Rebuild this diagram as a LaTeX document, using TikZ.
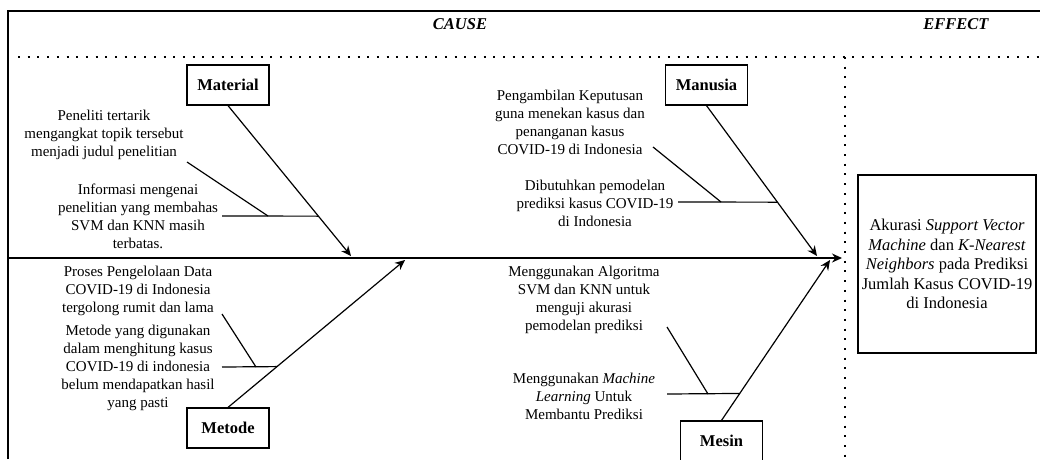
\documentclass[tikz,border=0pt]{standalone}
\usepackage{fontspec}
\setmainfont{Liberation Serif}
\usetikzlibrary{calc,arrows.meta}

\begin{document}
\begin{tikzpicture}[x=1pt, y=-1pt, line width=1.2pt, >={Stealth[length=10pt,width=9pt]},
  box/.style={draw, minimum width=82pt, minimum height=40pt, font=\fontsize{16.5}{20}\selectfont\bfseries},
  note/.style={align=center, inner sep=0pt, font=\fontsize{15}{18}\selectfont},
  head/.style={font=\fontsize{16.5}{20}\selectfont\bfseries\itshape},
  dotline/.style={line width=2pt, dash pattern=on 2pt off 7.7pt}]
  \useasboundingbox (0,0) rectangle (1040,459);
  \draw (8,459) -- (8,11) -- (1040,11);
  \draw[dotline] (18,57) -- (1040,57);
  \draw[dotline] (845,57) -- (845,459);

  \node[head] (cause) at (460,24) {CAUSE};
  \node[head] (effect) at (956,24) {EFFECT};

  \node[box] (mat) at (228,85) {Material};
  \node[box] (man) at (706.5,85) {Manusia};
  \node[box] (met) at (228,428) {Metode};
  \node[box] (mes) at (721.5,441) {Mesin};

  \node[draw, minimum width=178pt, minimum height=178pt, align=center,
    font=\fontsize{16.5}{19.5}\selectfont] (eff) at (947,264)
    {Akurasi \textit{Support Vector}\\\textit{Machine} dan \textit{K-Nearest}\\\textit{Neighbors} pada Prediksi\\Jumlah Kasus COVID-19\\di Indonesia};

  \node[note] (mat1) at (104,135) {Peneliti tertarik\\mengangkat topik tersebut\\menjadi judul penelitian};
  \node[note] (mat2) at (138,216) {Informasi mengenai\\penelitian yang membahas\\SVM dan KNN masih\\terbatas.};
  \node[note] (man1) at (570,122) {Pengambilan Keputusan\\guna menekan kasus dan\\penanganan kasus\\COVID-19 di Indonesia};
  \node[note] (man2) at (595,203) {Dibutuhkan pemodelan\\prediksi kasus COVID-19\\di Indonesia};
  \node[note] (met1) at (138,291) {Proses Pengelolaan Data\\COVID-19 di Indonesia\\tergolong rumit dan lama};
  \node[note] (met2) at (138,368) {Metode yang digunakan\\dalam menghitung kasus\\COVID-19 di indonesia\\belum mendapatkan hasil\\yang pasti};
  \node[note] (mes1) at (584,300) {Menggunakan Algoritma\\SVM dan KNN untuk\\menguji akurasi\\pemodelan prediksi};
  \node[note] (mes2) at (584,396) {Menggunakan \textit{Machine}\\\textit{Learning} Untuk\\Membantu Prediksi};

  \coordinate (tail) at (8,258);
  \coordinate (tip) at (842,258);
  \coordinate (matT) at (351,256);
  \coordinate (manT) at (817,256);
  \coordinate (metT) at (405,260);
  \coordinate (mesT) at (830,260);

  \coordinate (matA) at (187,162);
  \coordinate (matB) at (268,216);
  \coordinate (matC) at (222,216);
  \coordinate (matJ) at ($(mat.south)!0.735!(matT)$);
  \coordinate (manA) at (653,147);
  \coordinate (manB) at (721,202);
  \coordinate (manC) at (678,202);
  \coordinate (manJ) at ($(man.south)!0.642!(manT)$);
  \coordinate (metA) at (222,314);
  \coordinate (metB) at (256,367);
  \coordinate (metC) at (222,367);
  \coordinate (metJ) at ($(met.north)!0.277!(metT)$);
  \coordinate (mesA) at (667,327);
  \coordinate (mesB) at (708,394);
  \coordinate (mesC) at (667,394);
  \coordinate (mesJ) at ($(mes.north)!0.168!(mesT)$);

  \draw[->] (tail) to (tip);
  \draw[->] (mat.south) to (matT);
  \draw[->] (man.south) to (manT);
  \draw[->] (met.north) to (metT);
  \draw[->] (mes.north) to (mesT);

  \draw (matA) to (matB);
  \draw (matC) to (matJ);
  \draw (manA) to (manB);
  \draw (manC) to (manJ);
  \draw (metA) to (metB);
  \draw (metC) to (metJ);
  \draw (mesA) to (mesB);
  \draw (mesC) to (mesJ);
\end{tikzpicture}
\end{document}
